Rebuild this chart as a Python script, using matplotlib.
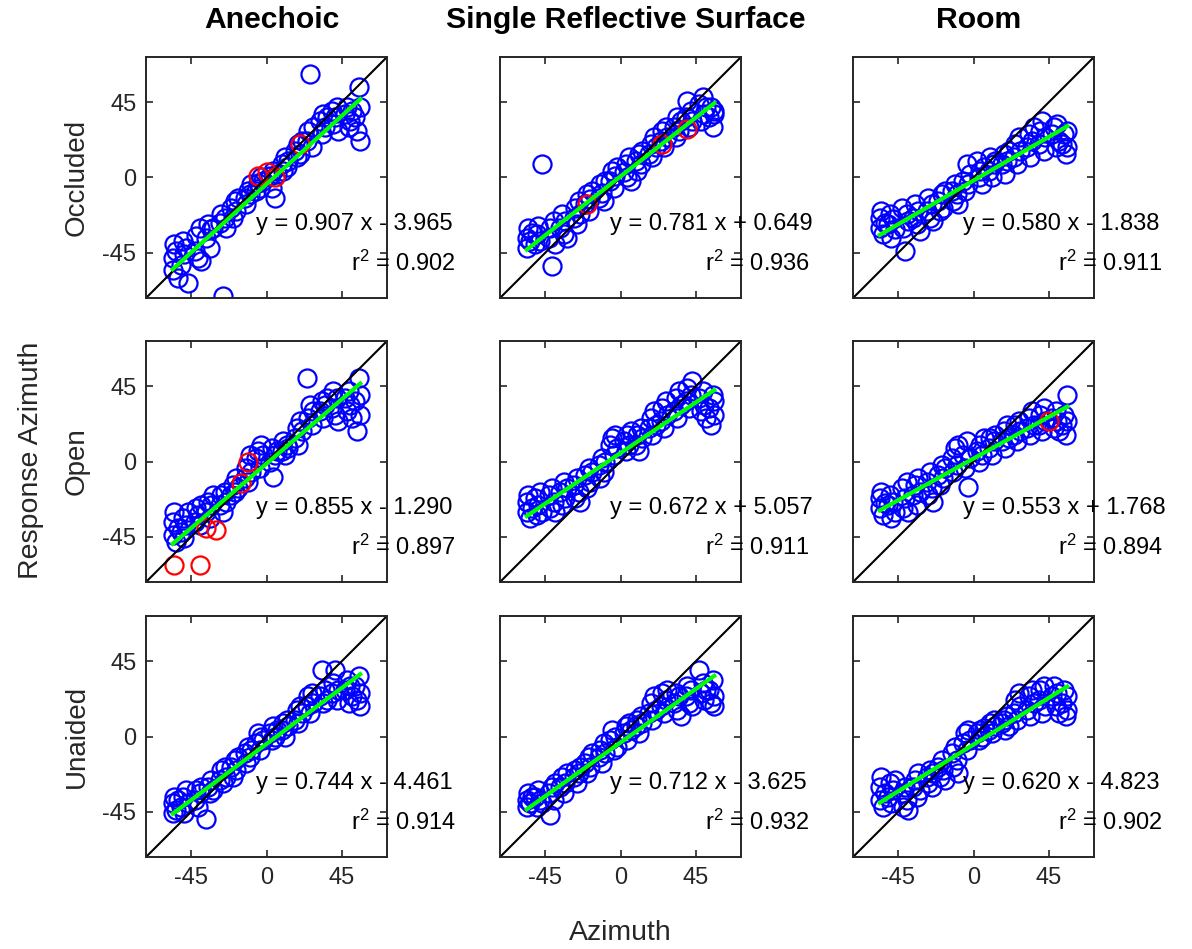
import numpy as np
import matplotlib
matplotlib.use('Agg')
from matplotlib import pyplot as plt

plt.rcParams['font.family'] = ['Liberation Sans', 'DejaVu Sans']
plt.rcParams['mathtext.fontset'] = 'custom'
plt.rcParams['mathtext.rm'] = 'Liberation Sans'
plt.rcParams['mathtext.it'] = 'Liberation Sans:italic'
plt.rcParams['axes.unicode_minus'] = False

rooms = ['Anechoic', 'Single Reflective Surface', 'Room']
devices = ['Occluded', 'Open', 'Unaided']

# stimulus azimuth (with small jitter), shared by all panels
azimuth = [-56, -56, -55, -54, -53, -51, -50, -49, -48, -47,
           -43, -42, -41, -40, -39, -36, -35, -34, -33, -32,
           -28, -27, -26, -25, -24, -21, -20, -19, -18, -17,
           -13, -12, -11, -10, -9, -6, -5, -4, -3, -2,
           2, 3, 4, 5, 6, 9, 10, 11, 12, 13,
           17, 18, 19, 20, 21, 24, 25, 26, 27, 28,
           32, 33, 34, 35, 36, 39, 40, 41, 42, 43,
           47, 48, 49, 50, 51, 53, 54, 55, 56, 56]

# response azimuths, row = device, col = room
resp_occ_anech = [-48, -55, -40, -44, -60, -52, -38, -46, -42, -63,
                  -44, -35, -48, -30, -50, -36, -28, -42, -31, -30,
                  -27, -22, -71, -24, -30, -18, -24, -14, -20, -12,
                  -12, -16, -8, -10, -4, -8, -3, -6, 0, -2,
                  1, -6, 4, -12, 2, 8, 4, 12, 6, 10,
                  16, 12, 20, 14, 22, 22, 28, 62, 18, 30,
                  34, 26, 38, 30, 36, 40, 32, 36, 42, 28,
                  38, 42, 30, 34, 40, 36, 28, 54, 22, 42]
resp_occ_srs = [-36, -42, -30, -38, -33, -40, -34, -29, -38, 8,
                -36, -30, -53, -26, -40, -30, -22, -34, -26, -36,
                -24, -18, -28, -14, -22, -16, -10, -20, -13, -8,
                -12, -4, -9, -14, -2, -2, 4, -6, 1, 6,
                3, 8, 0, 12, -2, 10, 4, 14, 8, 16,
                14, 20, 12, 24, 18, 22, 28, 18, 30, 24,
                30, 24, 36, 28, 34, 36, 46, 30, 40, 34,
                44, 34, 48, 38, 42, 36, 42, 30, 38, 40]
resp_occ_room = [-24, -30, -20, -34, -27, -28, -22, -36, -25, -31,
                 -18, -30, -44, -22, -26, -24, -16, -28, -20, -32,
                 -20, -12, -24, -16, -26, -14, -20, -10, -18, -8,
                 -8, -14, -4, -10, -16, -2, -8, 8, -4, 2,
                 10, 0, 4, -4, 6, 4, 12, 0, 8, 10,
                 8, 14, 2, 10, 16, 12, 20, 8, 24, 16,
                 18, 26, 12, 22, 30, 20, 28, 34, 16, 24,
                 26, 30, 18, 32, 22, 20, 26, 14, 28, 18]
resp_open_anech = [-36, -44, -30, -48, -40, -42, -34, -46, -38, -30,
                   -36, -28, -32, -38, -26, -30, -24, -34, -26, -20,
                   -26, -20, -30, -18, -24, -20, -14, -18, -10, -16,
                   -10, -4, -12, 4, -6, 2, 6, -4, 10, 4,
                   0, 8, -9, 4, 6, 6, 12, 4, 10, 8,
                   14, 20, 10, 24, 18, 50, 26, 34, 22, 30,
                   30, 36, 26, 34, 38, 32, 42, 28, 38, 24,
                   38, 30, 42, 34, 26, 36, 18, 50, 28, 40]
resp_open_srs = [-24, -30, -20, -34, -28, -22, -32, -26, -18, -30,
                 -20, -28, -16, -24, -30, -18, -26, -12, -22, -16,
                 -14, -22, -10, -18, -24, -8, -16, -4, -12, -6,
                 -2, -10, 2, -6, 0, 10, 14, 4, 16, 8,
                 12, 6, 16, 10, 18, 10, 16, 6, 20, 14,
                 20, 26, 16, 30, 22, 24, 32, 20, 36, 28,
                 30, 38, 26, 42, 34, 36, 44, 32, 40, 48,
                 38, 30, 42, 34, 26, 32, 22, 40, 28, 36]
resp_open_room = [-22, -28, -18, -32, -25, -26, -20, -34, -24, -30,
                  -16, -28, -22, -12, -30, -20, -14, -26, -10, -18,
                  -12, -20, -6, -16, -24, -8, -14, -2, -10, -4,
                  2, -6, 8, -2, 10, 4, -4, 12, -15, 2,
                  6, 0, 10, 4, 14, 8, 14, 4, 12, 16,
                  12, 18, 8, 22, 14, 16, 22, 12, 24, 18,
                  20, 26, 16, 30, 22, 22, 28, 18, 32, 24,
                  26, 20, 30, 24, 18, 22, 28, 16, 40, 24]
resp_unaid_anech = [-40, -46, -36, -44, -38, -42, -36, -46, -32, -40,
                    -38, -32, -42, -34, -30, -49, -30, -34, -26, -32,
                    -26, -20, -28, -18, -24, -18, -24, -14, -20, -12,
                    -10, -16, -6, -12, -8, -4, 2, -8, 0, -2,
                    2, -2, 6, 0, 4, 4, 8, 0, 10, 6,
                    10, 16, 8, 18, 14, 18, 24, 14, 26, 20,
                    24, 40, 20, 28, 22, 26, 32, 40, 22, 28,
                    28, 34, 20, 30, 24, 30, 22, 36, 26, 18]
resp_unaid_srs = [-38, -42, -34, -40, -36, -36, -42, -32, -38, -40,
                  -34, -47, -30, -38, -28, -30, -24, -34, -28, -22,
                  -24, -20, -28, -22, -18, -16, -22, -12, -18, -10,
                  -12, -8, -16, -4, -10, -2, 4, -8, 0, -6,
                  2, 6, -2, 8, 4, 6, 10, 2, 12, 8,
                  14, 20, 10, 24, 16, 18, 26, 14, 22, 28,
                  20, 26, 16, 24, 12, 24, 30, 20, 28, 18,
                  40, 26, 32, 22, 28, 28, 20, 34, 24, 18]
resp_unaid_room = [-30, -38, -24, -42, -34, -36, -28, -40, -32, -26,
                   -34, -42, -30, -38, -44, -30, -26, -36, -22, -32,
                   -24, -28, -20, -30, -22, -18, -24, -14, -20, -26,
                   -10, -18, -6, -14, -22, -4, 2, -8, 4, -2,
                   2, -2, 4, 0, 5, 4, 8, 2, 10, 6,
                   8, 10, 4, 12, 6, 14, 22, 10, 26, 18,
                   16, 24, 12, 28, 20, 22, 28, 14, 30, 18,
                   24, 30, 18, 26, 14, 20, 28, 12, 24, 16]

responses = [[resp_occ_anech, resp_occ_srs, resp_occ_room],
             [resp_open_anech, resp_open_srs, resp_open_room],
             [resp_unaid_anech, resp_unaid_srs, resp_unaid_room]]

# flagged trials (red)
red_x = [[[-5, 0, 5, 20], [-20, 25, 40], []],
         [[-11, -15, -36, -30, -55, -40], [], [45]],
         [[], [], []]]
red_y = [[[1, 3, 0, 20], [-16, 20, 29], []],
         [[0, -13, -40, -41, -62, -62], [], [24]],
         [[], [], []]]

slopes = [[0.907, 0.781, 0.580], [0.855, 0.672, 0.553], [0.744, 0.712, 0.620]]
intercepts = [[-3.965, 0.649, -1.838], [-1.290, 5.057, 1.768],
              [-4.461, -3.625, -4.823]]
r_squared = [[0.902, 0.936, 0.911], [0.897, 0.911, 0.894],
             [0.914, 0.932, 0.902]]

W, H = 1192, 949
fig = plt.figure(figsize=(W / 100, H / 100), dpi=100)

col_left = [146, 500, 853]
row_bottom = [298, 582, 857]
ax_w, ax_h = 241, 241
lim = 72
gray = '#262626'

x = np.array(azimuth)
for r in range(3):
    for c in range(3):
        ax = fig.add_axes([col_left[c] / W, 1 - row_bottom[r] / H,
                           ax_w / W, ax_h / H])
        y = np.array(responses[r][c])
        ax.plot(x, y, 'o', mfc='none', mec='#0000ff', ms=13, mew=1.6)
        if red_x[r][c]:
            ax.plot(red_x[r][c], red_y[r][c], 'o', mfc='none',
                    mec='#ff0000', ms=13, mew=1.6)
        ax.plot([-lim, lim], [-lim, lim], color='black', lw=1.5)
        xf = np.array([x.min(), x.max()])
        ax.plot(xf, slopes[r][c] * xf + intercepts[r][c],
                color='#00ff00', lw=3)
        ax.set_xlim(-lim, lim)
        ax.set_ylim(-lim, lim)
        ax.set_xticks([-45, 0, 45])
        ax.set_yticks([-45, 0, 45])
        ax.tick_params(direction='in', top=True, right=True, length=5,
                       width=1.2, color=gray, labelcolor=gray,
                       labelsize=17, pad=7)
        if c != 0:
            ax.set_yticklabels([])
        if r != 2:
            ax.set_xticklabels([])
        for sp in ax.spines.values():
            sp.set_color(gray)
            sp.set_linewidth(1.4)
        b = intercepts[r][c]
        sign = '+' if b >= 0 else '-'
        ax.text(0.455, 0.307,
                'y = %.3f x %s %.3f' % (slopes[r][c], sign, abs(b)),
                transform=ax.transAxes, fontsize=17, va='center',
                ha='left', clip_on=False, zorder=5)
        ax.text(0.852, 0.145, 'r$^2$ = %.3f' % r_squared[r][c],
                transform=ax.transAxes, fontsize=17, va='center',
                ha='left', clip_on=False, zorder=5)

for c in range(3):
    xc = (col_left[c] + ax_w / 2 + 5) / W
    fig.text(xc, 0.979, rooms[c], ha='center', va='center',
             fontsize=21.7, fontweight='bold')

for r in range(3):
    yc = 1 - (row_bottom[r] - ax_h / 2) / H
    fig.text(0.0646, yc, devices[r], rotation=90, ha='center',
             va='center', fontsize=20, color=gray)

fig.text(0.026, 0.515, 'Response Azimuth', rotation=90, ha='center',
         va='center', fontsize=20.5, color=gray)
fig.text(0.52, 0.017, 'Azimuth', ha='center', va='center', fontsize=20.5,
         color=gray)

fig.savefig('out.png', dpi=100)
